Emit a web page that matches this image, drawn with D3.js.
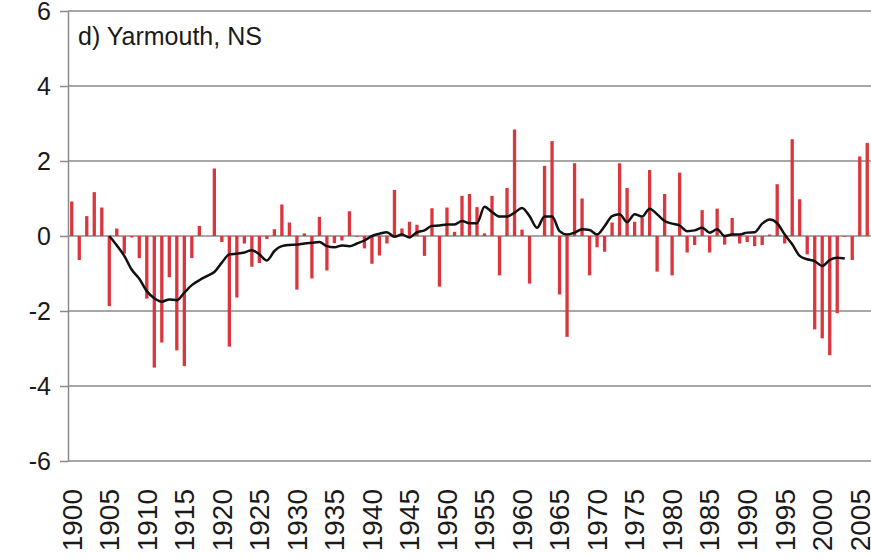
<!DOCTYPE html>
<html lang="en">
<head>
  <meta charset="UTF-8">
  <title>Yarmouth, NS</title>
  <style>
    * { margin: 0; padding: 0; }
    body { background: #fff; }
    #chart-area { width: 871px; height: 559px; }
    text { font-family: "Liberation Sans", Arial, sans-serif; fill: #1a1a1a; }
  </style>
</head>
<body>
<div id="chart-area"></div>
<script src="https://cdn.jsdelivr.net/npm/d3@7/dist/d3.min.js"></script>
<script>

  // years 1900..2006
  const years = d3.range(1900, 2007)

  // yearly anomalies (bars), one per year
  const anomalies = [
    0.92, -0.64, 0.53, 1.17, 0.76, -1.87, 0.20, -0.47, -0.04, -0.59,   // 1900s
    -1.67, -3.51, -2.84, -1.10, -3.05, -3.47, -0.59, 0.27, 0.00, 1.80, // 1910s
    -0.16, -2.95, -1.64, -0.20, -0.82, -0.72, -0.08, 0.18, 0.84, 0.36, // 1920s
    -1.43, 0.07, -1.13, 0.51, -0.92, -0.19, -0.12, 0.66, -0.02, -0.33, // 1930s
    -0.74, -0.52, -0.20, 1.23, 0.20, 0.38, 0.30, -0.53, 0.74, -1.35,   // 1940s
    0.76, 0.11, 1.07, 1.12, 0.77, 0.07, 1.07, -1.05, 1.28, 2.84,       // 1950s
    0.17, -1.27, 0.00, 1.87, 2.53, -1.56, -2.69, 1.94, 1.00, -1.05,    // 1960s
    -0.30, -0.42, 0.36, 1.94, 1.28, 0.38, 0.49, 1.76, -0.95, 1.12,     // 1970s
    -1.05, 1.69, -0.44, -0.24, 0.69, -0.44, 0.73, -0.23, 0.48, -0.20,  // 1980s
    -0.16, -0.27, -0.24, 0.04, 1.38, -0.20, 2.58, 0.98, -0.49, -2.49,  // 1990s
    -2.73, -3.18, -2.06, -0.02, -0.64, 2.12, 2.48                      // 2000s
  ]

  // smoothed curve, 1905..2003
  const smoothYears = d3.range(1905, 2004)
  const smoothed = [
    0.00, -0.25, -0.53, -0.90, -1.14,                                   // 1905-09
    -1.47, -1.66, -1.75, -1.69, -1.71, -1.51, -1.31, -1.18, -1.07, -0.96, // 1910s
    -0.71, -0.49, -0.47, -0.44, -0.38, -0.49, -0.65, -0.40, -0.27, -0.24, // 1920s
    -0.23, -0.20, -0.18, -0.16, -0.27, -0.30, -0.25, -0.27, -0.20, -0.12, // 1930s
    0.00, 0.06, 0.10, -0.02, 0.04, -0.04, 0.10, 0.15, 0.27, 0.28,       // 1940s
    0.31, 0.31, 0.40, 0.34, 0.34, 0.78, 0.64, 0.52, 0.52, 0.62,         // 1950s
    0.75, 0.53, 0.22, 0.52, 0.52, 0.13, 0.04, 0.09, 0.18, 0.16,         // 1960s
    0.04, 0.26, 0.53, 0.58, 0.37, 0.58, 0.52, 0.73, 0.58, 0.40,         // 1970s
    0.33, 0.28, 0.13, 0.15, 0.22, 0.09, 0.18, 0.00, 0.04, 0.04,         // 1980s
    0.09, 0.10, 0.33, 0.44, 0.34, 0.04, -0.22, -0.53, -0.62, -0.67,     // 1990s
    -0.80, -0.64, -0.58, -0.60                                          // 2000-03
  ]

  const yTicks = [-6, -4, -2, 0, 2, 4, 6]
  const xLabelYears = years.filter(d => d % 5 === 0)
  const title = 'd) Yarmouth, NS'

  const WIDTH = 871
  const HEIGHT = 559
  const PLOT = {LEFT: 68, RIGHT: 871, TOP: 11, BOTTOM: 461}

  const svg = d3.select('#chart-area').append('svg')
    .attr('width', WIDTH)
    .attr('height', HEIGHT)

  const x = d3.scaleBand().domain(years)
    .range([PLOT.LEFT, PLOT.RIGHT])
    .paddingInner(0.56)
    .paddingOuter(0.28)

  const y = d3.scaleLinear().domain([-6, 6]).range([PLOT.BOTTOM, PLOT.TOP])

  // gridlines
  svg.append('g').attr('class', 'grid')
    .selectAll('line')
    .data(yTicks)
    .join('line')
    .attr('x1', PLOT.LEFT)
    .attr('x2', PLOT.RIGHT)
    .attr('y1', d => y(d))
    .attr('y2', d => y(d))
    .attr('stroke', '#8a8a8a')
    .attr('stroke-width', 1.5)

  // y axis
  const yAxisCall = d3.axisLeft(y).tickValues(yTicks)
    .tickFormat(d => String(d))
    .tickSizeInner(8).tickSizeOuter(0).tickPadding(9)

  svg.append('g').attr('class', 'left-axis')
    .attr('transform', `translate(${PLOT.LEFT}, 0)`)
    .call(yAxisCall)
    .call(g => g.select('.domain').attr('stroke', '#8a8a8a').attr('stroke-width', 1.5))
    .call(g => g.selectAll('.tick line').attr('stroke', '#8a8a8a').attr('stroke-width', 1.5))
    .call(g => g.selectAll('.tick text')
      .attr('font-size', '25px')
      .attr('font-family', '"Liberation Sans", Arial, sans-serif')
      .attr('fill', '#1a1a1a'))

  // bars
  svg.append('g').attr('class', 'bars')
    .selectAll('rect')
    .data(years.map((yr, i) => ({year: yr, value: anomalies[i]})))
    .join('rect')
    .attr('x', d => x(d.year))
    .attr('width', x.bandwidth())
    .attr('y', d => y(Math.max(0, d.value)))
    .attr('height', d => Math.abs(y(d.value) - y(0)))
    .attr('fill', '#d9363e')

  // smoothed line
  const line = d3.line()
    .x(d => x(d.year) + x.bandwidth() / 2)
    .y(d => y(d.value))
    .curve(d3.curveMonotoneX)

  svg.append('path')
    .datum(smoothYears.map((yr, i) => ({year: yr, value: smoothed[i]})))
    .attr('d', line)
    .attr('fill', 'none')
    .attr('stroke', '#111')
    .attr('stroke-width', 2.5)
    .attr('stroke-linejoin', 'round')

  // x labels, rotated
  svg.append('g').attr('class', 'bottom-labels')
    .selectAll('text')
    .data(xLabelYears)
    .join('text')
    .attr('transform', d => `translate(${x(d) + x.bandwidth() / 2}, 489) rotate(-90)`)
    .attr('dy', '0.35em')
    .attr('text-anchor', 'end')
    .attr('font-size', '28px')
    .text(d => d)

  // panel title
  svg.append('text')
    .attr('x', 78)
    .attr('y', 45)
    .attr('font-size', '25px')
    .text(title)

</script>
</body>
</html>
